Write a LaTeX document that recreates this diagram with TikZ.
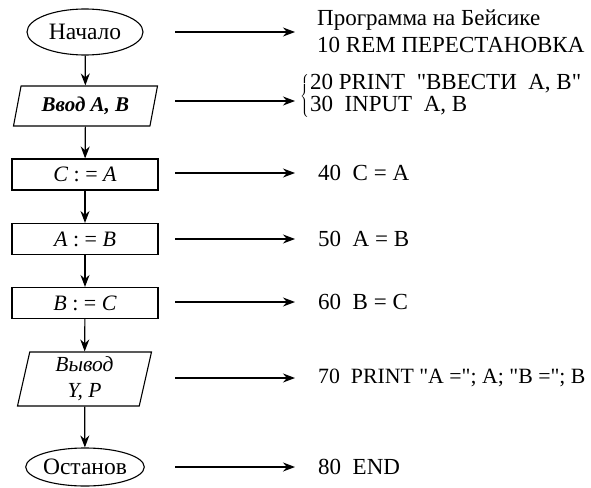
\documentclass[tikz,border=0pt]{standalone}
\usepackage{fontspec}
\setmainfont{Liberation Serif}
\usepackage{tikz}
\usetikzlibrary{arrows.meta,positioning,shapes.geometric}

\begin{document}
\begin{tikzpicture}[
        x=1pt, y=-1pt,
        term/.style={draw, ellipse, line width=1.1pt, minimum width=116pt, inner sep=0pt, font=\fontsize{23.5}{26}\selectfont},
        io/.style={draw, trapezium, trapezium left angle=67, trapezium right angle=113, trapezium stretches body, line width=1.1pt, inner sep=0pt, align=center, font=\fontsize{21.5}{26}\selectfont\itshape},
        proc/.style={draw, rectangle, line width=1.1pt, minimum width=146pt, minimum height=31pt, inner sep=0pt, font=\fontsize{22}{24}\selectfont},
        code/.style={anchor=west, align=left, inner sep=0pt, font=\fontsize{23}{27}\selectfont},
        flow/.style={-{Stealth[length=12pt,width=9pt]}, line width=1.2pt},
        >=Stealth
    ]
        \useasboundingbox (0,0) rectangle (591,487);

        % блок-схема
        \node[term, minimum height=46pt] (nach) at (85,32) {Начало};
        \node[io, font=\fontsize{21}{26}\selectfont\bfseries\itshape, minimum width=144pt, minimum height=40pt] (vvod) at (85.5,106) {Ввод A, B};
        \node[proc] (ca) at (85,174.5) {\textit{C} : = \textit{A}};
        \node[proc] (ab) at (85,239) {\textit{A} : = \textit{B}};
        \node[proc] (bc) at (85,303) {\textit{B} : = \textit{C}};
        \node[io, trapezium left angle=74.5, trapezium right angle=105.5, minimum width=134pt, minimum height=54pt] (vyvod) at (84.5,379) {Вывод\\Y, P};
        \node[term, minimum height=38pt] (ost) at (85,467) {Останов};

        \draw[flow] (nach) -- (vvod);
        \draw[flow] (vvod) -- (ca);
        \draw[flow] (ca) -- (ab);
        \draw[flow] (ab) -- (bc);
        \draw[flow] (bc) -- (vyvod);
        \draw[flow] (vyvod) -- (ost);

        % программа
        \node[code] (p10) at (317,31) {Программа на Бейсике\\10 REM ПЕРЕСТАНОВКА};
        \node[code, font=\fontsize{23}{22}\selectfont] (p20) at (300,96) {$\left\{\kern1pt\begin{tabular}{@{}l@{}}20 PRINT \ \textquotedbl ВВЕСТИ \ A, B\textquotedbl\\30 \ INPUT \ A, B\end{tabular}\right.$};
        \node[code] (p40) at (318,173) {40 \ C = A};
        \node[code] (p50) at (318,239) {50 \ A = B};
        \node[code] (p60) at (318,302) {60 \ B = C};
        \node[code, font=\fontsize{21.8}{27}\selectfont] (p70) at (318,378) {70 \ PRINT \textquotedbl A =\textquotedbl; A; \textquotedbl B =\textquotedbl; B};
        \node[code] (p80) at (318,467) {80 \ END};

        \coordinate (s10) at (175,32);
        \coordinate (s20) at (175,101);
        \coordinate (s40) at (175,173);
        \coordinate (s50) at (175,239);
        \coordinate (s60) at (175,302);
        \coordinate (s70) at (175,378);
        \coordinate (s80) at (175,467);
        \foreach \k in {10,20,40,50,60,70,80}
            \draw[flow] (s\k) -- (295,0 |- s\k);
    \end{tikzpicture}
\end{document}
